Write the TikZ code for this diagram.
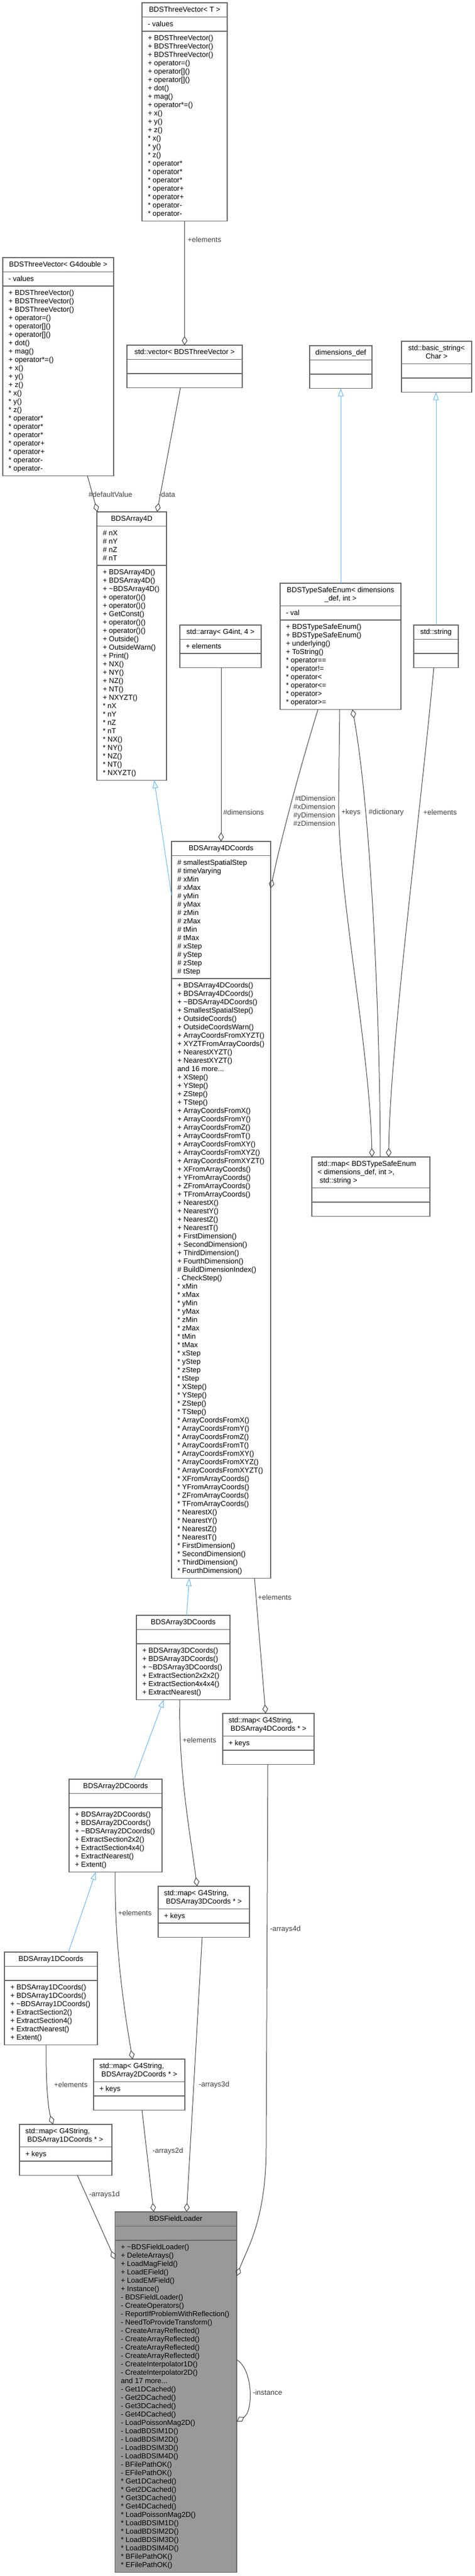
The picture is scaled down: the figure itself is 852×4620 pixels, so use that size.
\documentclass[tikz,border=0pt]{standalone}
\usepackage{fontspec}
\setmainfont{Liberation Sans}
\usetikzlibrary{arrows.meta,calc}
\definecolor{boxc}{HTML}{666666}
\definecolor{flc}{HTML}{999999}
\definecolor{edgec}{HTML}{404040}
\definecolor{inhc}{HTML}{63B8FF}
\definecolor{labc}{HTML}{404040}
\newcommand\uml{\fontsize{13}{15}\selectfont}
\newcommand\lrows[1]{\begin{tabular}{@{}l@{}}#1\end{tabular}}
\newcommand\crows[1]{\begin{tabular}{@{}c@{}}#1\end{tabular}}
\newcommand\rrows[1]{\begin{tabular}{@{}r@{}}#1\end{tabular}}
\tikzset{
  umlrect/.style={draw=boxc, line width=1.2pt, fill=white, inner sep=0pt, outer sep=0pt, anchor=north west},
  sepline/.style={draw=boxc, line width=1.2pt},
  txt/.style={inner sep=0pt, outer sep=0pt, font=\uml, text=black},
  elab/.style={inner sep=0pt, outer sep=0pt, font=\uml, text=labc},
  comp/.style={draw=edgec, line width=1pt, -{Diamond[open,length=16pt,width=10pt]}},
  inh/.style={draw=inhc, line width=1pt, -{Triangle[open,length=14pt,width=10pt]}},
}
% box: [style]{name}{left}{top}{width}{header lines}{attr lines}{method lines}
\newcommand\umlbox[8][]{%
  \pgfmathsetmacro\hA{15*#6+10.5}%
  \pgfmathsetmacro\hB{15*#7+10.5}%
  \pgfmathsetmacro\hC{15*#8+10.5}%
  \pgfmathsetmacro\hAB{\hA+\hB}%
  \pgfmathsetmacro\hT{\hAB+\hC}%
  \node[umlrect,#1,minimum width=#5,minimum height=\hT] (#2) at (#3,#4) {};
  \draw[sepline] ([yshift=-\hA]#2.north west) -- ([yshift=-\hA]#2.north east);
  \draw[sepline] ([yshift=-\hAB]#2.north west) -- ([yshift=-\hAB]#2.north east);
  \coordinate (#2-h) at ([yshift=-6]#2.north);
  \coordinate (#2-hl) at ([xshift=10.5,yshift=-6]#2.north west);
  \coordinate (#2-a) at ([xshift=10.5,yshift=-\hA-6]#2.north west);
  \coordinate (#2-m) at ([xshift=10.5,yshift=-\hAB-6]#2.north west);
}
\newcommand\hdr[2]{\node[txt,anchor=north] (#1-ht) at (#1-h) {\crows{#2}};}
\newcommand\hdrl[2]{\node[txt,anchor=north west] (#1-ht) at (#1-hl) {\lrows{#2}};}
\newcommand\att[2]{\node[txt,anchor=north west] (#1-at) at (#1-a) {\lrows{#2}};}
\newcommand\mth[2]{\node[txt,anchor=north west] (#1-mt) at (#1-m) {\lrows{#2}};}
\newcommand\tvmethods{+ BDSThreeVector()\\+ BDSThreeVector()\\+ BDSThreeVector()\\+ operator=()\\+ operator[]()\\+ operator[]()\\+ dot()\\+ mag()\\+ operator*=()\\+ x()\\+ y()\\+ z()\\{*} x()\\{*} y()\\{*} z()\\{*} operator*\\{*} operator*\\{*} operator*\\{*} operator+\\{*} operator+\\{*} operator-\\{*} operator-}
\begin{document}
\begin{tikzpicture}[x=1pt,y=-1pt]
\fill[white] (0,0) rectangle (852,4620);
\useasboundingbox (0,0) rectangle (852,4620);

% ---------- boxes ----------
\umlbox{tvT}{255}{5}{153}{1}{1}{22}
\hdr{tvT}{BDSThreeVector< T >}
\att{tvT}{- values}
\mth{tvT}{\tvmethods}

\umlbox{tvG}{5}{462}{199}{1}{1}{22}
\hdr{tvG}{BDSThreeVector< G4double >}
\att{tvG}{- values}
\mth{tvG}{\tvmethods}

\umlbox{vec}{228}{619}{207}{1}{1}{1}
\hdr{vec}{std::vector< BDSThreeVector >}

\umlbox{dims}{556}{620}{112}{1}{1}{1}
\hdr{dims}{dimensions\_def}

\umlbox{bstr}{721}{612}{126}{2}{1}{1}
\hdr{bstr}{std::basic\_string<\\Char >}

\umlbox{arr4}{174}{918}{125}{1}{4}{25}
\hdr{arr4}{BDSArray4D}
\att{arr4}{\# nX\\\# nY\\\# nZ\\\# nT}
\mth{arr4}{+ BDSArray4D()\\+ BDSArray4D()\\+ \textasciitilde BDSArray4D()\\+ operator()()\\+ operator()()\\+ GetConst()\\+ operator()()\\+ operator()()\\+ Outside()\\+ OutsideWarn()\\+ Print()\\+ NX()\\+ NY()\\+ NZ()\\+ NT()\\+ NXYZT()\\{*} nX\\{*} nY\\{*} nZ\\{*} nT\\{*} NX()\\{*} NY()\\{*} NZ()\\{*} NT()\\{*} NXYZT()}

\umlbox{btse}{503}{1046}{217}{2}{1}{10}
\hdr{btse}{BDSTypeSafeEnum< dimensions\\\_def, int >}
\att{btse}{- val}
\mth{btse}{+ BDSTypeSafeEnum()\\+ BDSTypeSafeEnum()\\+ underlying()\\+ ToString()\\{*} operator==\\{*} operator!=\\{*} operator<\\{*} operator<=\\{*} operator>\\{*} operator>=}

\umlbox{garr}{323}{1121}{146}{1}{1}{1}
\hdr{garr}{std::array< G4int, 4 >}
\att{garr}{+ elements}

\umlbox{sstr}{743}{1121}{80}{1}{1}{1}
\hdr{sstr}{std::string}

\umlbox{c4}{308}{1509}{178}{1}{14}{71}
\hdr{c4}{BDSArray4DCoords}
\att{c4}{\# smallestSpatialStep\\\# timeVarying\\\# xMin\\\# xMax\\\# yMin\\\# yMax\\\# zMin\\\# zMax\\\# tMin\\\# tMax\\\# xStep\\\# yStep\\\# zStep\\\# tStep}
\mth{c4}{+ BDSArray4DCoords()\\+ BDSArray4DCoords()\\+ \textasciitilde BDSArray4DCoords()\\+ SmallestSpatialStep()\\+ OutsideCoords()\\+ OutsideCoordsWarn()\\+ ArrayCoordsFromXYZT()\\+ XYZTFromArrayCoords()\\+ NearestXYZT()\\+ NearestXYZT()\\and 16 more...\\+ XStep()\\+ YStep()\\+ ZStep()\\+ TStep()\\+ ArrayCoordsFromX()\\+ ArrayCoordsFromY()\\+ ArrayCoordsFromZ()\\+ ArrayCoordsFromT()\\+ ArrayCoordsFromXY()\\+ ArrayCoordsFromXYZ()\\+ ArrayCoordsFromXYZT()\\+ XFromArrayCoords()\\+ YFromArrayCoords()\\+ ZFromArrayCoords()\\+ TFromArrayCoords()\\+ NearestX()\\+ NearestY()\\+ NearestZ()\\+ NearestT()\\+ FirstDimension()\\+ SecondDimension()\\+ ThirdDimension()\\+ FourthDimension()\\\# BuildDimensionIndex()\\- CheckStep()\\{*} xMin\\{*} xMax\\{*} yMin\\{*} yMax\\{*} zMin\\{*} zMax\\{*} tMin\\{*} tMax\\{*} xStep\\{*} yStep\\{*} zStep\\{*} tStep\\{*} XStep()\\{*} YStep()\\{*} ZStep()\\{*} TStep()\\{*} ArrayCoordsFromX()\\{*} ArrayCoordsFromY()\\{*} ArrayCoordsFromZ()\\{*} ArrayCoordsFromT()\\{*} ArrayCoordsFromXY()\\{*} ArrayCoordsFromXYZ()\\{*} ArrayCoordsFromXYZT()\\{*} XFromArrayCoords()\\{*} YFromArrayCoords()\\{*} ZFromArrayCoords()\\{*} TFromArrayCoords()\\{*} NearestX()\\{*} NearestY()\\{*} NearestZ()\\{*} NearestT()\\{*} FirstDimension()\\{*} SecondDimension()\\{*} ThirdDimension()\\{*} FourthDimension()}

\umlbox{mapE}{560}{2075}{212}{3}{1}{1}
\hdrl{mapE}{std::map< BDSTypeSafeEnum\\< dimensions\_def, int >,\\\ std::string >}

\umlbox{c3}{245}{2897}{168}{1}{1}{6}
\hdr{c3}{BDSArray3DCoords}
\mth{c3}{+ BDSArray3DCoords()\\+ BDSArray3DCoords()\\+ \textasciitilde BDSArray3DCoords()\\+ ExtractSection2x2x2()\\+ ExtractSection4x4x4()\\+ ExtractNearest()}

\umlbox{m4}{400}{3073}{164}{2}{1}{1}
\hdrl{m4}{std::map< G4String,\\\ BDSArray4DCoords * >}
\att{m4}{+ keys}

\umlbox{c2}{124}{3191}{167}{1}{1}{7}
\hdr{c2}{BDSArray2DCoords}
\mth{c2}{+ BDSArray2DCoords()\\+ BDSArray2DCoords()\\+ \textasciitilde BDSArray2DCoords()\\+ ExtractSection2x2()\\+ ExtractSection4x4()\\+ ExtractNearest()\\+ Extent()}

\umlbox{m3}{284}{3383}{164}{2}{1}{1}
\hdrl{m3}{std::map< G4String,\\\ BDSArray3DCoords * >}
\att{m3}{+ keys}

\umlbox{c1}{8}{3501}{167}{1}{1}{7}
\hdr{c1}{BDSArray1DCoords}
\mth{c1}{+ BDSArray1DCoords()\\+ BDSArray1DCoords()\\+ \textasciitilde BDSArray1DCoords()\\+ ExtractSection2()\\+ ExtractSection4()\\+ ExtractNearest()\\+ Extent()}

\umlbox{m2}{168}{3693}{164}{2}{1}{1}
\hdrl{m2}{std::map< G4String,\\\ BDSArray2DCoords * >}
\att{m2}{+ keys}

\umlbox{m1}{35}{3810}{166}{2}{1}{1}
\hdrl{m1}{std::map< G4String,\\\ BDSArray1DCoords * >}
\att{m1}{+ keys}

\umlbox[fill=flc]{fl}{206.5}{3967}{218.5}{1}{1}{39}
\hdr{fl}{BDSFieldLoader}
\mth{fl}{+ \textasciitilde BDSFieldLoader()\\+ DeleteArrays()\\+ LoadMagField()\\+ LoadEField()\\+ LoadEMField()\\+ Instance()\\- BDSFieldLoader()\\- CreateOperators()\\- ReportIfProblemWithReflection()\\- NeedToProvideTransform()\\- CreateArrayReflected()\\- CreateArrayReflected()\\- CreateArrayReflected()\\- CreateArrayReflected()\\- CreateInterpolator1D()\\- CreateInterpolator2D()\\and 17 more...\\- Get1DCached()\\- Get2DCached()\\- Get3DCached()\\- Get4DCached()\\- LoadPoissonMag2D()\\- LoadBDSIM1D()\\- LoadBDSIM2D()\\- LoadBDSIM3D()\\- LoadBDSIM4D()\\- BFilePathOK()\\- EFilePathOK()\\{*} Get1DCached()\\{*} Get2DCached()\\{*} Get3DCached()\\{*} Get4DCached()\\{*} LoadPoissonMag2D()\\{*} LoadBDSIM1D()\\{*} LoadBDSIM2D()\\{*} LoadBDSIM3D()\\{*} LoadBDSIM4D()\\{*} BFilePathOK()\\{*} EFilePathOK()}

% ---------- connectors ----------
\draw[comp] ([xshift=76.5]tvT.south west) -- ([xshift=103.5]vec.north west);
\node[elab,anchor=west] (l1) at (337,430) {+elements};

\draw[comp] ([xshift=96]vec.south west) -- ([xshift=108]arr4.north west);
\node[elab,anchor=west] (l2) at (285,887) {-data};

\draw[comp] ([xshift=152]tvG.south west) -- ([xshift=1]arr4.north west);
\node[elab,anchor=west] (l3) at (159,887) {\#defaultValue};

\draw[inh] ([yshift=-97]c4.north west) -- ([xshift=103]arr4.south west);

\draw[comp] ([xshift=74]garr.south west) -- ([xshift=89]c4.north west);
\node[elab,anchor=west] (l4) at (401,1457) {\#dimensions};

\draw[comp] ([xshift=68]btse.south west) .. controls (550,1340) and (510,1480) .. ([yshift=-84]c4.north east);
\node[elab,anchor=east] (l5) at (602,1456) {\rrows{\#tDimension\\\#xDimension\\\#yDimension\\\#zDimension}};

\draw[inh] ([xshift=109]btse.north west) -- ([xshift=56]dims.south west);
\draw[inh] ([xshift=40]sstr.north west) -- ([xshift=62]bstr.south west);

\draw[comp] ([xshift=107]btse.south west) -- (608,1440) .. controls (607,1600) and (664,1880) .. ([xshift=108]mapE.north west);
\node[elab,anchor=west] (l6) at (613,1457) {+keys};

\draw[comp] ([xshift=123]mapE.north west) .. controls (682,1800) and (665,1450) .. ([xshift=130]btse.south west);
\node[elab,anchor=west] (l7) at (662,1457) {\#dictionary};

\draw[comp] ([xshift=36]sstr.south west) .. controls (755,1460) and (700,1880) .. ([xshift=138]mapE.north west);
\node[elab,anchor=west] (l8) at (760,1457) {+elements};

\draw[inh] ([xshift=90]c3.north west) -- ([xshift=32]c4.south west);

\draw[comp] ([xshift=149]c4.south west) -- ([xshift=77]m4.north west);
\node[elab,anchor=west] (l9) at (463,2865) {+elements};

\draw[inh] ([xshift=117]c2.north west) -- ([xshift=49]c3.south west);

\draw[comp] ([xshift=78]c3.south west) .. controls (320,3170) and (340,3280) .. ([xshift=70]m3.north west);
\node[elab,anchor=west] (l10) at (328,3121) {+elements};

\draw[inh] ([xshift=115]c1.north west) -- ([xshift=48]c2.south west);

\draw[comp] ([xshift=83]c2.south west) .. controls (205,3480) and (222,3600) .. ([xshift=70]m2.north west);
\node[elab,anchor=west] (l11) at (212,3431) {+elements};

\draw[comp] ([xshift=75]c1.south west) .. controls (82,3730) and (86,3780) .. ([xshift=60]m1.north west);
\node[elab,anchor=west] (l12) at (97,3739) {+elements};

\draw[comp] ([xshift=104]m1.south west) -- ([yshift=-85]fl.north west);
\node[elab,anchor=west] (l13) at (160,3936) {-arrays1d};

\draw[comp] ([xshift=87]m2.south west) -- ([xshift=69.5]fl.north west);
\node[elab,anchor=west] (l14) at (274,3858) {-arrays2d};

\draw[comp] ([xshift=79]m3.south west) -- ([xshift=128.5]fl.north west);
\node[elab,anchor=west] (l15) at (357,3739) {-arrays3d};

\draw[comp] ([xshift=81]m4.south west) -- (478,3850) .. controls (478,3980) and (445,4030) .. ([yshift=-115]fl.north east);
\node[elab,anchor=west] (l16) at (485,3460) {-arrays4d};

\draw[comp] ([yshift=-265]fl.north east) .. controls (455,4250) and (455,4325) .. ([yshift=-376]fl.north east);
\node[elab,anchor=west] (l17) at (454,4291) {-instance};
\end{tikzpicture}
\end{document}
